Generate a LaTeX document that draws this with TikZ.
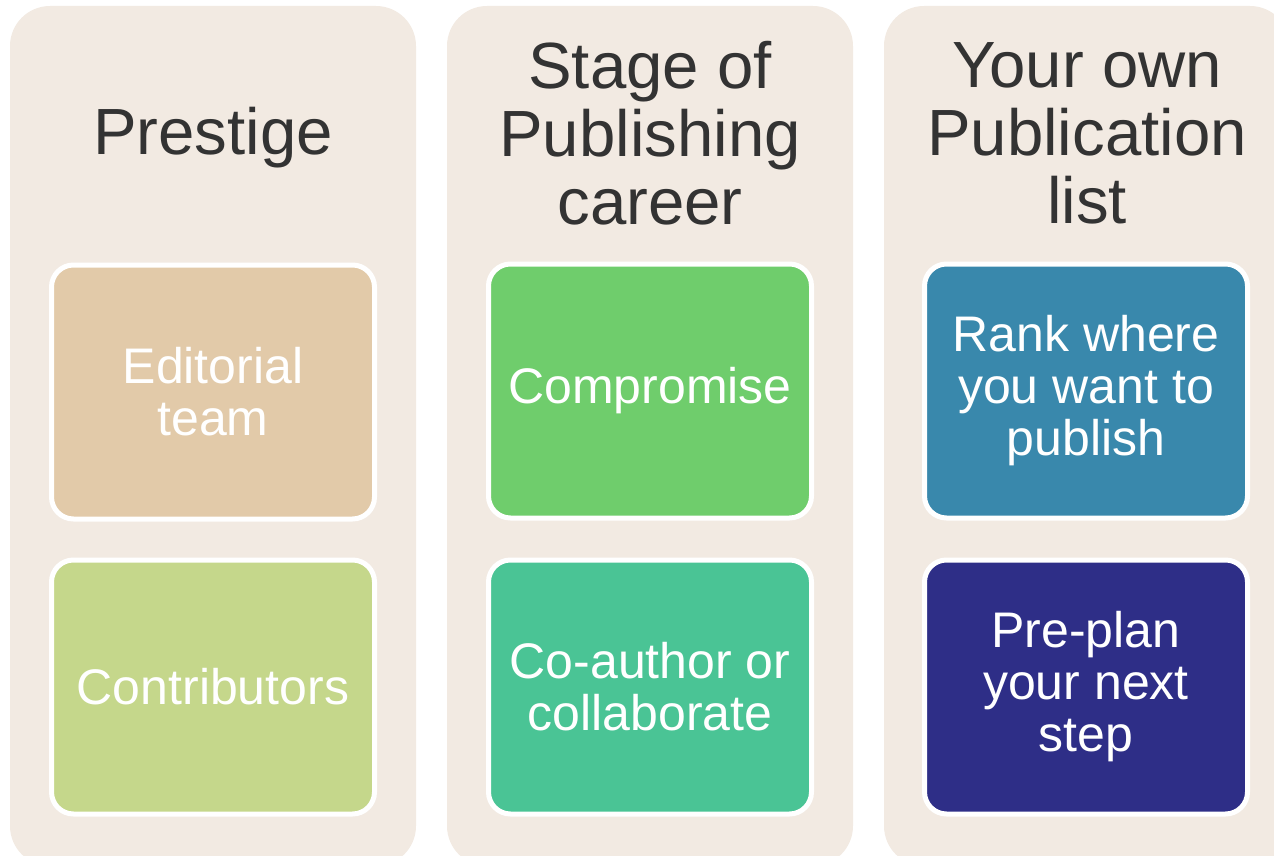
\documentclass[tikz,border=0pt]{standalone}
\usepackage{fontspec}
\setmainfont{Liberation Sans}
\definecolor{panel}{HTML}{F2EAE2}
\definecolor{headgray}{HTML}{333333}
\definecolor{tanbox}{HTML}{E2CAA9}
\definecolor{olivebox}{HTML}{C5D78B}
\definecolor{greenbox}{HTML}{6FCD6C}
\definecolor{tealbox}{HTML}{4AC495}
\definecolor{bluebox}{HTML}{3988AC}
\definecolor{navybox}{HTML}{2E2E87}
\begin{document}
\begin{tikzpicture}[x=0.75pt, y=-0.75pt,
    panelbox/.style={fill=panel, rounded corners=30pt, minimum width=304.5pt,
        minimum height=645pt, inner sep=0pt},
    headtext/.style={text=headgray, align=center, inner sep=0pt,
        font=\fontsize{49}{51}\selectfont},
    card/.style={draw=white, line width=3.75pt, rounded corners=16.5pt,
        minimum width=242.25pt, minimum height=190.5pt, text=white,
        align=center, font=\fontsize{37.5}{39}\selectfont}]
    \useasboundingbox (0,0) rectangle (1274,856);
    % three columns with their headings
    \node[panelbox] (col1) at (213,436) {};
    \node[panelbox] (col2) at (650,436) {};
    \node[panelbox] (col3) at (1087,436) {};
    \node[headtext] (head1) at (213,138) {Prestige};
    \node[headtext] (head2) at (650,133) {Stage of\\Publishing\\career};
    \node[headtext] (head3) at (1087,133) {Your own\\Publication\\list};
    % two cards in each column
    \node[card, fill=tanbox] (editorial) at (213,392) {Editorial\\team};
    \node[card, fill=olivebox] (contrib) at (213,687) {Contributors};
    \node[card, fill=greenbox] (compromise) at (650,391) {Compromise};
    \node[card, fill=tealbox] (coauthor) at (650,687) {Co-author or\\collaborate};
    \node[card, fill=bluebox] (rank) at (1086,391) {Rank where\\you want to\\publish};
    \node[card, fill=navybox] (preplan) at (1086,687) {Pre-plan\\your next\\step};
\end{tikzpicture}
\end{document}
